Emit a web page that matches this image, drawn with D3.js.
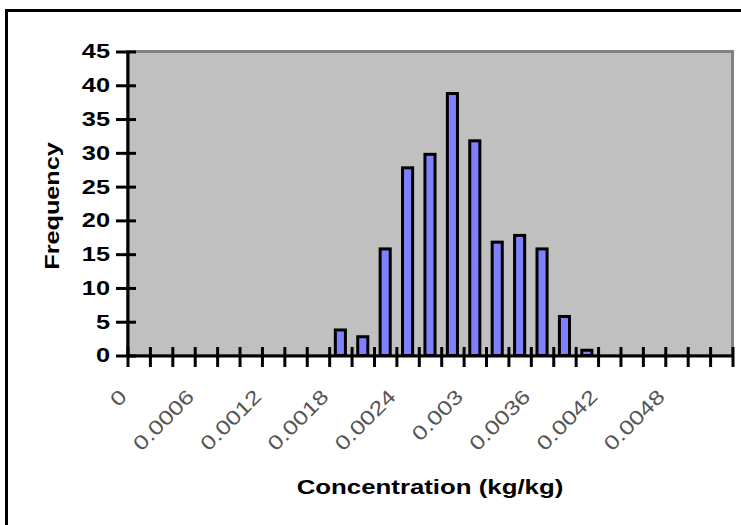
<!DOCTYPE html>
<html><head><meta charset="utf-8">
<script src="https://cdn.jsdelivr.net/npm/d3@7"></script>
<style>html,body{margin:0;padding:0;background:#fff;overflow:hidden}</style>
</head><body>
<svg id="c" width="741" height="525"></svg>
<script>
const categories = ["0","0.0002","0.0004","0.0006","0.0008","0.001","0.0012","0.0014","0.0016","0.0018",
  "0.002","0.0022","0.0024","0.0026","0.0028","0.003","0.0032","0.0034","0.0036","0.0038",
  "0.004","0.0042","0.0044","0.0046","0.0048","0.005","0.0052"];
const frequency = [0,0,0,0,0,0,0,0,0,4,3,16,28,30,39,32,17,18,16,6,1,0,0,0,0,0,0];
const xTickLabels = ["0","0.0006","0.0012","0.0018","0.0024","0.003","0.0036","0.0042","0.0048"];
const yTickValues = [0,5,10,15,20,25,30,35,40,45];
const xTitle = "Concentration (kg/kg)";
const yTitle = "Frequency";

const FONT = "'Liberation Sans', Arial, sans-serif";
const pLeft = 127.5, pRight = 732.5, pTop = 51.5, pBottom = 355.5;
const svg = d3.select("#c");

function stretch(sel, k) {
  sel.each(function () {
    const L = this.getComputedTextLength();
    d3.select(this).attr("textLength", L * k).attr("lengthAdjust", "spacingAndGlyphs");
  });
}

// outer chart border
svg.append("rect").attr("x", 6.5).attr("y", 10.5).attr("width", 900).attr("height", 700)
  .attr("fill", "#fff").attr("stroke", "#000").attr("stroke-width", 3);

const xBand = d3.scaleBand().domain(categories).range([pLeft, pRight])
  .paddingInner(0.55).paddingOuter(0.275);
const xEdge = d3.scaleLinear().domain([0, categories.length]).range([pLeft, pRight]);
const y = d3.scaleLinear().domain([0, 45]).range([pBottom, pTop]);

// plot area
svg.append("rect").attr("x", pLeft).attr("y", pTop).attr("width", pRight - pLeft).attr("height", pBottom - pTop)
  .attr("fill", "#C0C0C0").attr("stroke", "#808080").attr("stroke-width", 3);

// bars
svg.append("g").selectAll("rect").data(categories.map((c, i) => ({c, v: frequency[i]})).filter(d => d.v > 0))
  .join("rect")
  .attr("x", d => xBand(d.c))
  .attr("width", xBand.bandwidth())
  .attr("y", d => y(d.v) + 1.5)
  .attr("height", d => y(0) - y(d.v) - 1.5)
  .attr("fill", "#8080FF").attr("stroke", "#000").attr("stroke-width", 3);

// y axis
const gy = svg.append("g").attr("transform", `translate(${pLeft},0)`)
  .call(d3.axisLeft(y).tickValues(yTickValues).tickSizeInner(11.5).tickSizeOuter(0).tickPadding(6));
gy.select(".domain").attr("stroke", "#000").attr("stroke-width", 3);
gy.selectAll(".tick line").attr("x1", 8.5).attr("stroke", "#000").attr("stroke-width", 3);
gy.selectAll(".tick text").attr("font-family", FONT).attr("font-size", 20).attr("font-weight", "bold")
  .attr("fill", "#000").call(stretch, 1.27);

// x axis
const gx = svg.append("g").attr("transform", `translate(0,${pBottom})`)
  .call(d3.axisBottom(xEdge).tickValues(d3.range(categories.length + 1)).tickSizeInner(11.5).tickSizeOuter(0).tickFormat(""));
gx.select(".domain").attr("stroke", "#000").attr("stroke-width", 3);
gx.selectAll(".tick line").attr("y1", -8.5).attr("stroke", "#000").attr("stroke-width", 3);
gx.selectAll(".tick text").remove();

// x tick labels (every 3rd category)
svg.append("g").selectAll("text").data(xTickLabels).join("text")
  .attr("transform", (d, i) => {
    const c = categories[i * 3];
    const px = xBand(c) + xBand.bandwidth() / 2 - 10.5;
    return `translate(${px},398) rotate(-45)`;
  })
  .attr("text-anchor", "end")
  .attr("font-family", FONT).attr("font-size", 20).attr("fill", "#555")
  .text(d => d).call(stretch, 1.25);

// axis titles
svg.append("text").attr("x", (pLeft + pRight) / 2).attr("y", 494).attr("text-anchor", "middle")
  .attr("font-family", FONT).attr("font-size", 20).attr("font-weight", "bold").attr("fill", "#000")
  .text(xTitle).call(stretch, 1.29);
svg.append("text").attr("transform", "translate(59,206) rotate(-90)").attr("text-anchor", "middle")
  .attr("font-family", FONT).attr("font-size", 20).attr("font-weight", "bold").attr("fill", "#000")
  .text(yTitle).call(stretch, 1.26);
</script>
</body></html>
